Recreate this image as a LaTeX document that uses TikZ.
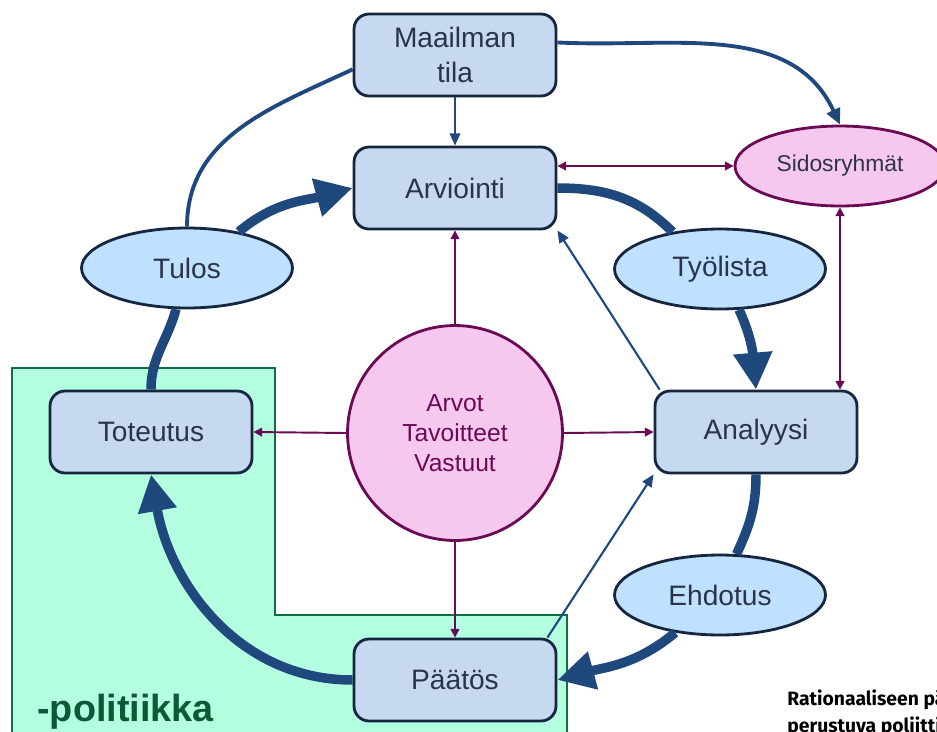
\documentclass[tikz,border=0pt]{standalone}
\usepackage{fontspec}
\setmainfont{Liberation Sans}
\newfontfamily\capfont{Fira Sans}
\usetikzlibrary{shapes.geometric,arrows.meta}
\definecolor{boxfill}{HTML}{C6D9F0}
\definecolor{ovalfill}{HTML}{BFE0FF}
\definecolor{boxline}{HTML}{17263F}
\definecolor{boxtext}{HTML}{2A3448}
\definecolor{flow}{HTML}{1F497D}
\definecolor{pinkfill}{HTML}{F7C8EF}
\definecolor{plum}{HTML}{6A0A55}
\definecolor{mint}{HTML}{B3FFE0}
\definecolor{mintline}{HTML}{0D7040}
\definecolor{poltext}{HTML}{0A5A35}
\tikzset{>=Triangle,
  box/.style={rectangle,rounded corners=0.3cm,draw=boxline,fill=boxfill,line width=1.6pt,
    minimum width=4.04cm,minimum height=1.64cm,text=boxtext,align=center,
    font=\fontsize{16}{20}\selectfont},
  oval/.style={ellipse,draw=boxline,fill=ovalfill,line width=1.6pt,
    minimum width=4.22cm,minimum height=1.6cm,text=boxtext,font=\fontsize{16}{20}\selectfont},
  bigflow/.style={draw=flow,line width=5.4pt,-{Triangle[length=21pt,width=21pt]}},
  bigline/.style={draw=flow,line width=5.4pt},
  midflow/.style={draw=flow,line width=2.2pt},
  thinflow/.style={draw=flow,line width=1.2pt,-{Triangle[length=7pt,width=6pt]}},
  plumflow/.style={draw=plum,line width=1.1pt,>={Triangle[length=5pt,width=5pt]}}
}

\begin{document}
\begin{tikzpicture}[x=0.02cm,y=-0.02cm]
\useasboundingbox (0,0) rectangle (937,731);

% politiikka area
\draw[fill=mint,draw=mintline,line width=1.4pt]
  (12,745) -- (12,368) -- (275,368) -- (275,615) -- (567,615) -- (567,745);
\node[anchor=base west,text=poltext,font=\bfseries\fontsize{21.5}{24}\selectfont,inner sep=0pt]
  (pol) at (37,721) {-politiikka};

\node[box] (maailma) at (455,55) {Maailman\\tila};
\node[box] (arvionti) at (455,188) {Arviointi};
\node[box] (toteutus) at (151,432) {Toteutus};
\node[box] (analyysi) at (756,432) {Analyysi};
\node[box] (paatos) at (455,680) {Päätös};
\node[oval] (tulos) at (187,268) {Tulos};
\node[oval] (tyolista) at (720,269) {Työlista};
\node[oval] (ehdotus) at (720,595) {Ehdotus};
\node[ellipse,draw=plum,fill=pinkfill,line width=1.6pt,minimum width=4.2cm,minimum height=1.6cm,
  text=boxtext,font=\fontsize{13}{16}\selectfont] (sidos) at (840,166) {Sidosryhmät};
\node[circle,draw=plum,fill=pinkfill,line width=1.6pt,minimum size=4.3cm,align=center,
  text=plum,font=\fontsize{14}{17}\selectfont] (arvot) at (455,433) {Arvot\\Tavoitteet\\Vastuut};

% kierto
\draw[bigflow] (tulos.35) to[out=40,in=195] (arvionti.west);
\draw[bigline] (arvionti.east) to[out=0,in=135] (tyolista.142);
\draw[bigflow] (tyolista.-65) to[out=-65,in=95] (analyysi.north);
\draw[bigline] (analyysi.south) to[out=-90,in=65] (ehdotus.68);
\draw[bigflow] (ehdotus.220) to[out=-140,in=15] (paatos.east);
\draw[bigflow] (paatos.west) to[out=180,in=-80] (toteutus.south);
\draw[bigline] (toteutus.north) to[out=90,in=-105] (tulos.-105);

\draw[midflow,-{Triangle[length=9pt,width=8pt]}] (maailma.7) to[out=-3,in=115] (sidos.north);
\draw[midflow] (tulos.north) to[out=90,in=205] (maailma.188);
\draw[thinflow] (maailma.south) -- (arvionti.north);
\draw[thinflow] ([xshift=0.12cm]analyysi.north west) -- (arvionti.south east);
\draw[thinflow] ([xshift=-0.2cm]paatos.north east) -- (analyysi.south west);

\foreach \a/\b in {north/arvionti.south,west/toteutus.east,east/analyysi.west,south/paatos.north}
  \draw[plumflow,->] (arvot.\a) -- (\b);
\draw[plumflow,<->] (sidos.west -| arvionti.east) -- (sidos.west);
\draw[plumflow,<->] (sidos.south) -- (sidos.south |- analyysi.north);

\node[anchor=base west,align=left,inner sep=0pt,font=\capfont\bfseries\fontsize{11}{15.3}\selectfont]
  (kuvateksti) at (787,732) {Rationaaliseen pä\\perustuva poliittis};
\end{tikzpicture}
\end{document}
